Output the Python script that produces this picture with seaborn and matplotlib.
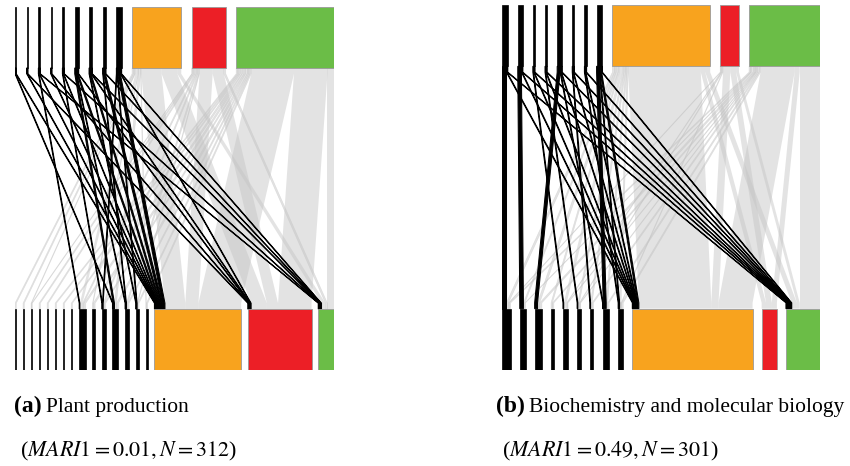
import numpy as np
import pandas as pd
import seaborn as sns
import matplotlib
matplotlib.use("Agg")
import matplotlib.pyplot as plt
from matplotlib.patches import Polygon, Rectangle

sns.set_theme(style="white")
plt.rcParams['font.family'] = ['Liberation Serif', 'DejaVu Serif']
plt.rcParams['mathtext.fontset'] = 'stix'

# ---------------- Panel (a): Plant production ----------------
a_top_labels = ['s'] * 9 + ['O', 'R', 'G']
a_top_sizes = [2, 2, 3, 2, 3, 6, 5, 5, 8, 75, 52, 149]
a_bottom_labels = ['s'] * 15 + ['O', 'R', 'G']
a_bottom_sizes = [2, 2, 2, 2, 2, 2, 2, 2, 10, 4, 6, 9, 6, 5, 3, 132, 97, 24]
a_flow_src = [0, 0, 1, 1, 2, 2, 2, 3, 3, 4, 4, 4, 5, 5, 5, 5, 6, 6, 6, 6, 7, 7, 7,
              8, 8, 8, 8, 8,
              9, 9, 9, 9, 9, 9, 9, 9, 9, 9,
              10, 10, 10, 10, 10, 10, 10, 10, 10, 10,
              11, 11, 11, 11, 11, 11, 11, 11, 11, 11, 11, 11, 11]
a_flow_dst = [11, 15, 16, 15, 8, 15, 17, 15, 16, 10, 15, 17, 11, 12, 15, 16, 13, 15, 16, 17, 12, 15, 17,
              10, 13, 15, 16, 17,
              0, 1, 2, 8, 9, 11, 14, 15, 16, 17,
              2, 3, 4, 8, 10, 12, 13, 15, 16, 17,
              5, 6, 7, 8, 9, 10, 11, 12, 13, 14, 15, 16, 17]
a_flow_n = [1, 1, 1, 1, 1, 1, 1, 1, 1, 1, 1, 1, 2, 1, 2, 1, 1, 2, 1, 1, 1, 3, 1,
            1, 1, 4, 1, 1,
            2, 2, 1, 4, 1, 3, 1, 31, 24, 6,
            1, 2, 2, 2, 2, 2, 1, 20, 17, 3,
            2, 2, 2, 3, 3, 2, 3, 2, 2, 2, 65, 51, 10]
a_title_tag = "(a)"
a_title = "Plant production"
a_stats = r"($MARI1 = 0.01, N = 312$)"

# ---------------- Panel (b): Biochemistry and molecular biology ----------------
b_top_labels = ['s'] * 8 + ['O', 'R', 'G']
b_top_sizes = [8, 7, 3, 3, 7, 3, 3, 8, 135, 26, 98]
b_bottom_labels = ['s'] * 9 + ['O', 'R', 'G']
b_bottom_sizes = [12, 8, 10, 4, 7, 5, 5, 9, 7, 166, 21, 47]
b_flow_src = [0, 0, 0, 1, 1, 1, 2, 2, 2, 3, 3, 3, 4, 4, 4, 4, 5, 5, 5, 6, 6, 6, 7, 7, 7, 7,
              8, 8, 8, 8, 8, 8, 8, 8, 8, 8, 8, 8,
              9, 9, 9, 9, 9, 9, 9,
              10, 10, 10, 10, 10, 10, 10, 10, 10, 10, 10, 10]
b_flow_dst = [0, 9, 11, 1, 9, 11, 4, 9, 11, 5, 9, 11, 2, 7, 9, 11, 6, 9, 11, 8, 9, 11, 7, 8, 9, 11,
              0, 1, 2, 3, 4, 5, 6, 7, 8, 9, 10, 11,
              0, 4, 5, 8, 9, 10, 11,
              0, 1, 2, 3, 4, 5, 6, 7, 8, 9, 10, 11]
b_flow_n = [6, 1, 1, 5, 1, 1, 1, 1, 1, 1, 1, 1, 4, 1, 1, 1, 1, 1, 1, 1, 1, 1, 4, 1, 2, 1,
            3, 2, 3, 2, 4, 2, 2, 2, 2, 100, 6, 7,
            1, 1, 1, 1, 10, 8, 4,
            2, 1, 3, 2, 1, 1, 2, 2, 2, 47, 7, 28]
b_title_tag = "(b)"
b_title = "Biochemistry and molecular biology"
b_stats = r"($MARI1 = 0.49, N = 301$)"

cluster_colors = {'O': '#F8A31E', 'R': '#EC1F26', 'G': '#6BBD47', 's': '#000000'}

FIG_W, FIG_H = 850, 466


def row_starts(sizes, width):
    gap = (width - sum(sizes)) / (len(sizes) - 1)
    starts = np.concatenate([[0], np.cumsum(np.array(sizes) + gap)[:-1]])
    return starts


def draw_panel(ax, top_labels, top_sizes, bot_labels, bot_sizes, src, dst, n, top_gap):
    width = sum(top_sizes) + top_gap * (len(top_sizes) - 1)
    ts = row_starts(top_sizes, width)
    bs = row_starts(bot_sizes, width)
    hb = 0.168
    stub = 0.016
    yt = 1 - hb
    yb = hb
    df = pd.DataFrame({'src': src, 'dst': dst, 'n': n})
    df = df.sort_values(['src', 'dst'])
    df['t0'] = ts[df['src']] + df.groupby('src')['n'].cumsum() - df['n']
    df = df.sort_values(['dst', 'src'])
    df['b0'] = bs[df['dst']] + df.groupby('dst')['n'].cumsum() - df['n']
    df['black'] = [top_labels[s] == 's' for s in df['src']]
    for black in (False, True):
        for _, r in df[df['black'] == black].iterrows():
            a0, a1 = r['t0'], r['t0'] + r['n']
            b0, b1 = r['b0'], r['b0'] + r['n']
            pts = [(a0, yt), (a1, yt), (a1, yt - stub), (b1, yb + stub), (b1, yb),
                   (b0, yb), (b0, yb + stub), (a0, yt - stub)]
            if black:
                poly = Polygon(pts, closed=True, facecolor='black', edgecolor='black',
                               linewidth=0.75, zorder=3)
            else:
                thin = r['n'] <= 3
                poly = Polygon(pts, closed=True, facecolor='#c4c4c4',
                               edgecolor='#c4c4c4' if thin else 'none',
                               linewidth=0.4, alpha=0.47, zorder=2)
            ax.add_patch(poly)
    for row_y, labels, sizes, starts in [(yt, top_labels, top_sizes, ts),
                                         (0, bot_labels, bot_sizes, bs)]:
        for lab, s, x in zip(labels, sizes, starts):
            ax.add_patch(Rectangle((x, row_y), s, hb, facecolor=cluster_colors[lab],
                                   edgecolor='#000000' if lab == 's' else '#9a9a9a',
                                   linewidth=0.5 if lab == 's' else 0.6, zorder=4))
    ax.set_xlim(0, width)
    ax.set_ylim(0, 1)
    ax.axis('off')


fig = plt.figure(figsize=(FIG_W / 100, FIG_H / 100), dpi=100)
ax_a = fig.add_axes([15 / FIG_W, 1 - 370 / FIG_H, 319 / FIG_W, 363 / FIG_H])
ax_b = fig.add_axes([502 / FIG_W, 1 - 370 / FIG_H, 318 / FIG_W, 365 / FIG_H])

draw_panel(ax_a, a_top_labels, a_top_sizes, a_bottom_labels, a_bottom_sizes,
           a_flow_src, a_flow_dst, a_flow_n, top_gap=15.8)
draw_panel(ax_b, b_top_labels, b_top_sizes, b_bottom_labels, b_bottom_sizes,
           b_flow_src, b_flow_dst, b_flow_n, top_gap=13.8)

for ax, x0, tag, title, stats in [(ax_a, 14, a_title_tag, a_title, a_stats),
                                  (ax_b, 496, b_title_tag, b_title, b_stats)]:
    t = fig.text(x0 / FIG_W, 1 - 406 / FIG_H, tag, fontsize=17, fontweight='bold',
                 va='center', ha='left', color='black')
    ax.annotate(title, xy=(1, 0.45), xycoords=t, xytext=(3, 0),
                textcoords='offset points', va='center', ha='left',
                fontsize=15.5, color='black', annotation_clip=False)
    fig.text((x0 + 6) / FIG_W, 1 - 451 / FIG_H, stats, fontsize=15.8,
             va='center', ha='left', color='black')

fig.savefig("out.png", dpi=100)
